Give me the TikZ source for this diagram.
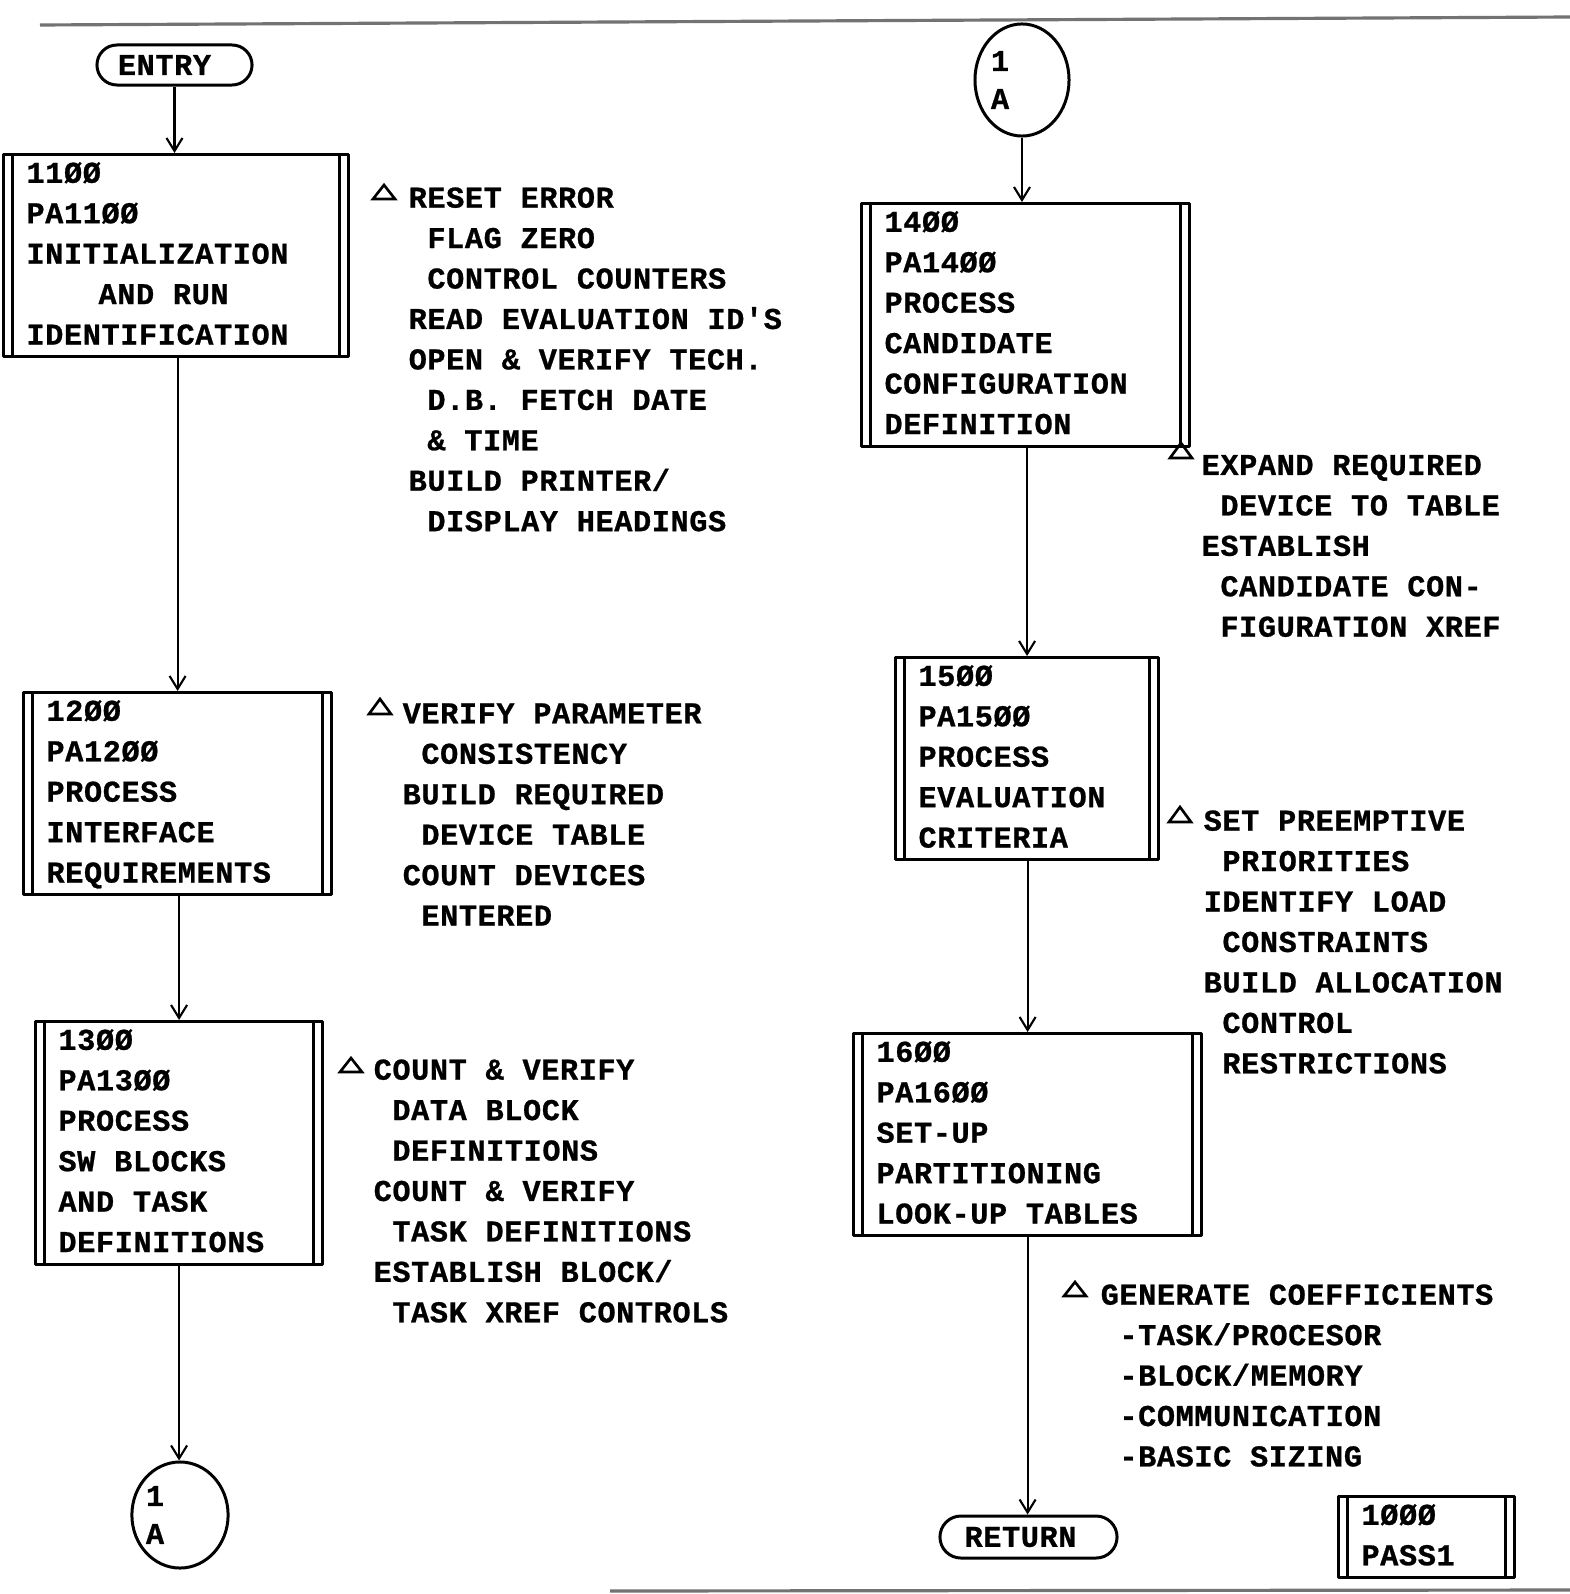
\documentclass[tikz,border=0pt]{standalone}
\usepackage{fontspec}
\usetikzlibrary{arrows.meta,shapes.misc,shapes.geometric}
\newfontfamily\plotfont[LetterSpace=2,Ligatures=TeXOff,BoldFeatures={FakeBold=0.8}]{Liberation Mono}
\newcommand\plotsize{\plotfont\bfseries\fontsize{8.6pt}{11.5pt}\selectfont
  \spaceskip=0.1875cm\relax\xspaceskip=0.1875cm\relax}
\newcommand\monospaces{\spaceskip=0.1875cm\relax\xspaceskip=0.1875cm\relax}
\newcommand\ind{\hspace*{0.187cm}}
\begin{document}
\begin{tikzpicture}[x=0.01cm, y=-0.01cm, line join=round,
  procbox/.style={draw, line width=0.85pt, rectangle, anchor=north west,
    inner xsep=0.23cm, inner ysep=0pt, align=left, font=\plotsize,
    execute at begin node={\monospaces\strut}, execute at end node=\strut,
    path picture={
      \draw[line width=0.85pt]
        ([xshift=0.09cm]path picture bounding box.north west) --
        ([xshift=0.09cm]path picture bounding box.south west)
        ([xshift=-0.09cm]path picture bounding box.north east) --
        ([xshift=-0.09cm]path picture bounding box.south east);}},
  term/.style={draw, line width=0.85pt, rounded rectangle, inner sep=0pt, font=\plotsize},
  conn/.style={draw, line width=0.85pt, ellipse, inner sep=0pt, align=left,
    font={\plotsize\fontsize{8.6pt}{10.8pt}\selectfont}},
  note/.style={anchor=north west, inner sep=0pt, align=left, font=\plotsize,
    execute at begin node=\strut},
  flow/.style={line width=0.6pt, -{Straight Barb[length=0.13cm,width=0.16cm]}},
  deltamark/.style={line width=0.75pt, line join=miter},
  scanline/.style={line width=0.9pt, black!55}]

\fill[white] (0,0) rectangle (1570,1594);
\useasboundingbox (0,0) rectangle (1570,1594);

% page edges
\draw[scanline] (40,25) -- (1570,17);
\draw[scanline] (610,1591) -- (1570,1590);

% ---------- left column ----------
\node[term, minimum width=1.55cm, minimum height=0.40cm] (entry) at (174.5,65) {ENTRY\hspace*{0.2cm}};

\node[procbox, text width=2.99cm] (b1100) at (2,153)
  {11ØØ\\PA11ØØ\\INITIALIZATION\\\hspace*{0.72cm}AND RUN\\IDENTIFICATION};

\node[procbox, text width=2.62cm] (b1200) at (22,691)
  {12ØØ\\PA12ØØ\\PROCESS\\INTERFACE\\REQUIREMENTS};

\node[procbox, text width=2.41cm] (b1300) at (34,1020)
  {13ØØ\\PA13ØØ\\PROCESS\\SW BLOCKS\\AND TASK\\DEFINITIONS};

\node[conn, minimum width=0.94cm, minimum height=1.06cm, text width=0.68cm] (c1a) at (180,1515) {1\\A};

% ---------- right column ----------
\node[conn, minimum width=0.94cm, minimum height=1.12cm, text width=0.62cm] (c1b) at (1022,80) {1\\A};

\node[procbox, text width=2.82cm] (b1400) at (860,202)
  {14ØØ\\PA14ØØ\\PROCESS\\CANDIDATE\\CONFIGURATION\\DEFINITION};

\node[procbox, text width=2.17cm] (b1500) at (894,656)
  {15ØØ\\PA15ØØ\\PROCESS\\EVALUATION\\CRITERIA};

\node[procbox, text width=3.02cm] (b1600) at (852,1032)
  {16ØØ\\PA16ØØ\\SET-UP\\PARTITIONING\\LOOK-UP TABLES};

\node[term, minimum width=1.77cm, minimum height=0.42cm] (ret) at (1028.5,1537) {RETURN\hspace*{0.16cm}};

\node[procbox, text width=1.30cm] (pass) at (1337,1495) {1ØØØ\\PASS1};

% ---------- flow lines ----------
\draw[flow] (entry.south) -- (entry.south |- b1100.north);
\draw[flow] (b1200.north |- b1100.south) -- (b1200.north);
\draw[flow] (b1300.north |- b1200.south) -- (b1300.north);
\draw[flow] (b1300.south) -- (b1300.south |- c1a.north);
\draw[flow] (c1b.south) -- (c1b.south |- b1400.north);
\draw[flow] (b1500.north |- b1400.south) -- (b1500.north);
\draw[flow] (b1600.north |- b1500.south) -- (b1600.north);
\draw[flow] (b1600.south) -- (b1600.south |- ret.north);

% ---------- annotations ----------
\draw[deltamark] (384,185) -- (395,199) -- (373,199) -- cycle;
\node[note] (n1100) at (408,186.7)
  {RESET ERROR\\\ind FLAG ZERO\\\ind CONTROL COUNTERS\\READ EVALUATION ID'S\\OPEN \& VERIFY TECH.\\\ind D.B. FETCH DATE\\\ind \& TIME\\BUILD PRINTER/\\\ind DISPLAY HEADINGS};

\draw[deltamark] (380,699) -- (391,714) -- (369,714) -- cycle;
\node[note] (n1200) at (402,702.7)
  {VERIFY PARAMETER\\\ind CONSISTENCY\\BUILD REQUIRED\\\ind DEVICE TABLE\\COUNT DEVICES\\\ind ENTERED};

\draw[deltamark] (351,1058) -- (362,1072) -- (340,1072) -- cycle;
\node[note] (n1300) at (373,1058.7)
  {COUNT \& VERIFY\\\ind DATA BLOCK\\\ind DEFINITIONS\\COUNT \& VERIFY\\\ind TASK DEFINITIONS\\ESTABLISH BLOCK/\\\ind TASK XREF CONTROLS};

\draw[deltamark] (1181,443) -- (1192,458) -- (1170,458) -- cycle;
\node[note] (n1400) at (1201,454)
  {EXPAND REQUIRED\\\ind DEVICE TO TABLE\\ESTABLISH\\\ind CANDIDATE CON-\\\ind FIGURATION XREF};

\draw[deltamark] (1180,807) -- (1191,822) -- (1169,822) -- cycle;
\node[note] (n1500) at (1203,809.7)
  {SET PREEMPTIVE\\\ind PRIORITIES\\IDENTIFY LOAD\\\ind CONSTRAINTS\\BUILD ALLOCATION\\\ind CONTROL\\\ind RESTRICTIONS};

\draw[deltamark] (1075,1282) -- (1086,1296) -- (1064,1296) -- cycle;
\node[note] (n1600) at (1100,1283.7)
  {GENERATE COEFFICIENTS\\\ind -TASK/PROCESOR\\\ind -BLOCK/MEMORY\\\ind -COMMUNICATION\\\ind -BASIC SIZING};

\end{tikzpicture}
\end{document}
